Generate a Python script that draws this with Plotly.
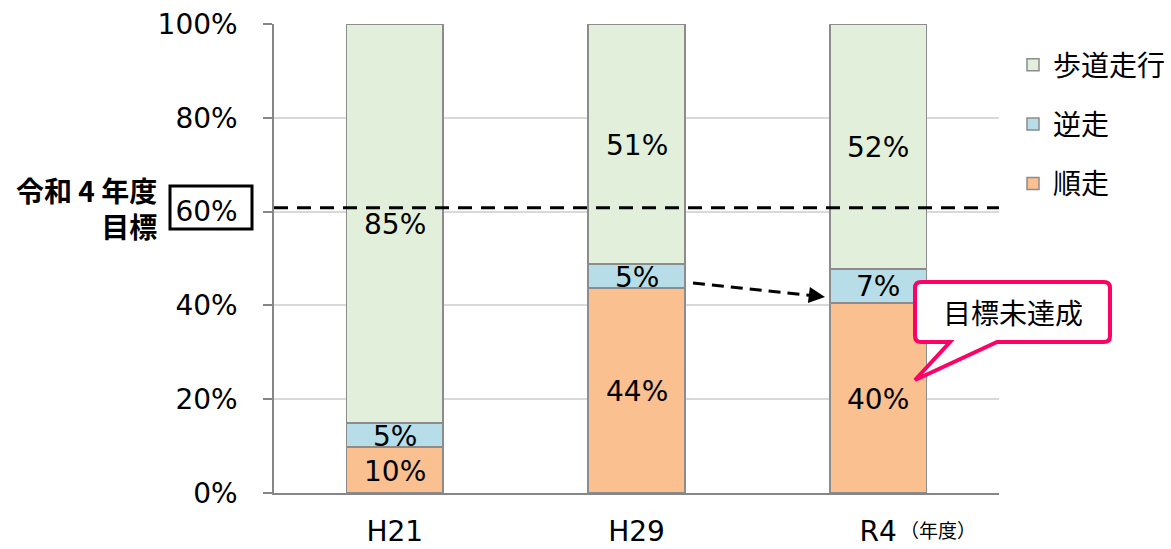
import plotly.graph_objects as go

categories = ["H21", "H29", "R4"]
junso = [9.8, 43.7, 40.5]        # 順走
gyakuso = [5.1, 5.1, 7.3]         # 逆走
hodo = [85.1, 51.2, 52.2]         # 歩道走行
junso_lbl = ["10%", "44%", "40%"]
gyakuso_lbl = ["5%", "5%", "7%"]
hodo_lbl = ["85%", "51%", "52%"]
target = 60.8
yticks = [0, 20, 40, 60, 80, 100]
ytick_text = ["0%", "20%", "40%", "60%", "80%", "100%"]

FONT = "DejaVu Sans, Noto Sans CJK JP, sans-serif"
CJK = "Noto Sans CJK JP, sans-serif"
FS = 28
EDGE = "#8c8c8c"

# plot area in pixels (for placing decorations in paper coordinates)
PX0, PX1, PY0, PY1 = 274, 999, 24, 493


def px(xp):
    return (xp - PX0) / (PX1 - PX0)


def py(yp):
    return (PY1 - yp) / (PY1 - PY0)


fig = go.Figure()
series = [
    ("順走", junso, "#fac090", 3),
    ("逆走", gyakuso, "#b7dee8", 2),
    ("歩道走行", hodo, "#e2efda", 1),
]
for name, vals, col, rank in series:
    fig.add_trace(go.Bar(
        x=categories, y=vals, name=name, marker=dict(color=col, line=dict(color=EDGE, width=1.5)),
        width=0.4, legendgroup=name, legendrank=rank, hoverinfo="skip"))

# data labels at segment centres
for i, c in enumerate(categories):
    base = 0
    for vals, lbls in [(junso, junso_lbl), (gyakuso, gyakuso_lbl), (hodo, hodo_lbl)]:
        mid = base + vals[i] / 2
        fig.add_annotation(x=c, y=mid, text=lbls[i], showarrow=False,
                           font=dict(family=FONT, size=FS, color="#000"), yshift=-1)
        base += vals[i]

# target dashed line
fig.add_shape(type="line", xref="paper", yref="y", x0=0, x1=1, y0=target, y1=target,
              line=dict(color="#000", width=3, dash="14px,9px"), layer="above")

# dashed arrow H29 -> R4
x_tail, y_tail = px(693), py(283)
x_head, y_head = px(825), py(297)
fig.add_shape(type="line", xref="paper", yref="paper", x0=x_tail, y0=y_tail,
              x1=px(812), y1=py(295.6),
              line=dict(color="#000", width=3, dash="12px,7px"), layer="above")
fig.add_annotation(x=x_head, y=y_head, ax=-16, ay=-2, xref="paper", yref="paper",
                   showarrow=True, arrowhead=2, arrowsize=1.3, arrowwidth=2.5,
                   arrowcolor="#000", text="")

# callout balloon (paper coordinates)
xl, xr, yt, yb = px(915), px(1110), py(282), py(342)
rx, ry = px(921) - px(915), py(282) - py(288)
t0, t1, tipx, tipy = px(950), px(997), px(915), py(380)
path = (f"M {xl+rx},{yt} L {xr-rx},{yt} Q {xr},{yt} {xr},{yt-ry} L {xr},{yb+ry} Q {xr},{yb} {xr-rx},{yb} "
        f"L {t1},{yb} L {tipx},{tipy} L {t0},{yb} L {xl+rx},{yb} Q {xl},{yb} {xl},{yb+ry} "
        f"L {xl},{yt-ry} Q {xl},{yt} {xl+rx},{yt} Z")
fig.add_shape(type="path", xref="paper", yref="paper", path=path, fillcolor="#ffffff",
              line=dict(color="#ff0066", width=4), layer="above")
fig.add_annotation(x=(xl + xr) / 2, y=(yt + yb) / 2, text="目標未達成", showarrow=False,
                   xanchor="center", yanchor="middle",
                   font=dict(family=CJK, size=FS, color="#000"), xref="paper", yref="paper")

# left target label and box around 60%
fig.add_annotation(xref="paper", yref="paper", x=px(159), y=py(208),
                   xanchor="right", yanchor="middle", align="right",
                   text="<b>令和 4 年度</b><br><b>目標</b>", showarrow=False,
                   font=dict(family=CJK, size=28, color="#000"))
fig.add_shape(type="rect", xref="paper", yref="paper",
              x0=px(170), x1=px(252), y0=py(229), y1=py(186),
              line=dict(color="#000", width=3), fillcolor="rgba(0,0,0,0)")

# (年度)
fig.add_annotation(xref="paper", yref="paper", x=px(898), y=py(529),
                   xanchor="left", yanchor="middle", text="（年度）", showarrow=False,
                   font=dict(family=CJK, size=19, color="#000"))

fig.update_layout(
    barmode="stack",
    width=1171, height=549,
    margin=dict(l=PX0, r=1171 - PX1, t=PY0, b=549 - PY1, autoexpand=False),
    paper_bgcolor="#fff", plot_bgcolor="#fff",
    font=dict(family=FONT, size=FS, color="#000"),
    showlegend=True,
    legend=dict(x=px(1013), y=py(40), xanchor="left", yanchor="top",
                traceorder="grouped", tracegroupgap=20,
                font=dict(family=CJK, size=FS, color="#000"), bgcolor="rgba(0,0,0,0)"),
    xaxis=dict(range=[-0.5, 2.5], showline=True, linecolor="#868686", linewidth=2,
               ticks="", tickfont=dict(family=FONT, size=FS), ticklabelstandoff=12,
               showgrid=False, zeroline=False, automargin=False),
    yaxis=dict(range=[0, 100], tickvals=yticks, ticktext=ytick_text, showline=True,
               linecolor="#868686", linewidth=1.5, ticks="outside", ticklen=9, tickcolor="#868686",
               tickwidth=1.5, showgrid=True, gridcolor="#d9d9d9", gridwidth=1.5, zeroline=False,
               tickfont=dict(family=FONT, size=FS), ticklabelstandoff=20, automargin=False),
)

fig.write_html("out.html", config={"displayModeBar": False},
               post_script="document.body.style.margin='0';document.body.style.overflow='hidden';")
